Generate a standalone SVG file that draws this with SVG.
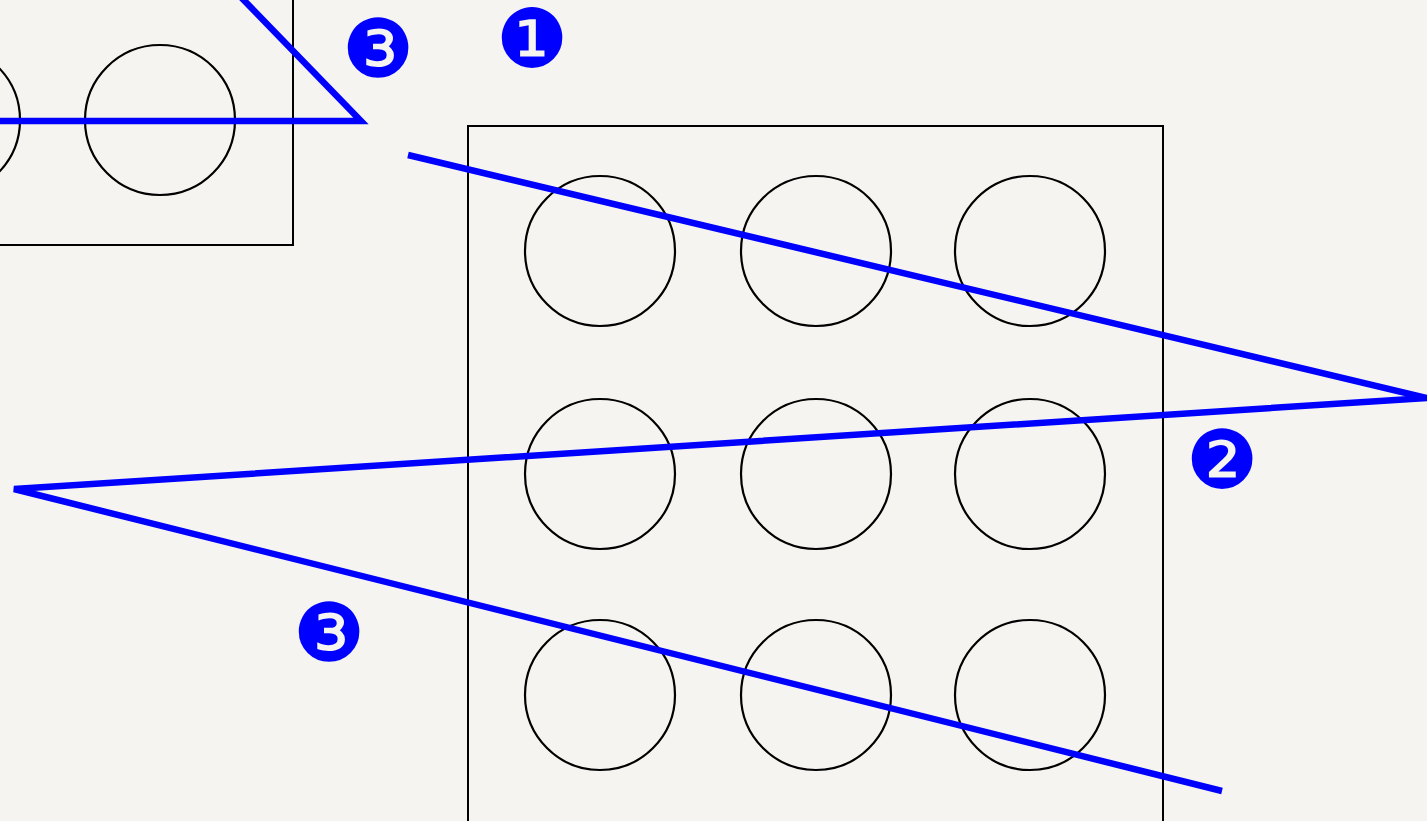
<svg xmlns="http://www.w3.org/2000/svg" width="1427" height="821" viewBox="0 0 1427 821">
<style>
.box{fill:none;stroke:#000;stroke-width:2}
.hole{fill:none;stroke:#000;stroke-width:2.2}
.path{fill:none;stroke:#0000ff;stroke-width:6.5;stroke-linejoin:miter;stroke-linecap:butt}
.num{font-family:"DejaVu Serif","DejaVu Sans",serif;font-size:81px;fill:#0000ff;text-anchor:middle;dominant-baseline:central}
</style>
<rect x="0" y="0" width="1427" height="821" fill="#f5f4f0"/>
<g id="plate-small">
<rect class="box" x="-400" y="-20" width="693" height="265"/>
<circle class="hole" cx="-55" cy="120" r="75"/>
<circle class="hole" cx="160" cy="120" r="75"/>
</g>
<g id="plate-main">
<rect class="box" x="468" y="126" width="695" height="720"/>
<circle class="hole" cx="600" cy="251" r="75"/>
<circle class="hole" cx="816" cy="251" r="75"/>
<circle class="hole" cx="1030" cy="251" r="75"/>
<circle class="hole" cx="600" cy="474" r="75"/>
<circle class="hole" cx="816" cy="474" r="75"/>
<circle class="hole" cx="1030" cy="474" r="75"/>
<circle class="hole" cx="600" cy="695" r="75"/>
<circle class="hole" cx="816" cy="695" r="75"/>
<circle class="hole" cx="1030" cy="695" r="75"/>
</g>
<g id="connectors">
<polyline class="path" points="-10,121 361,121 234,-10"/>
<polyline class="path" points="408,155 1427,398 14,489 1222,791"/>
</g>
<g id="label-1"><text class="num" x="532" y="39">❶</text></g>
<g id="label-2"><text class="num" x="1222" y="460">❷</text></g>
<g id="label-3a"><text class="num" x="378" y="49">❸</text></g>
<g id="label-3b"><text class="num" x="329" y="633">❸</text></g>
</svg>
